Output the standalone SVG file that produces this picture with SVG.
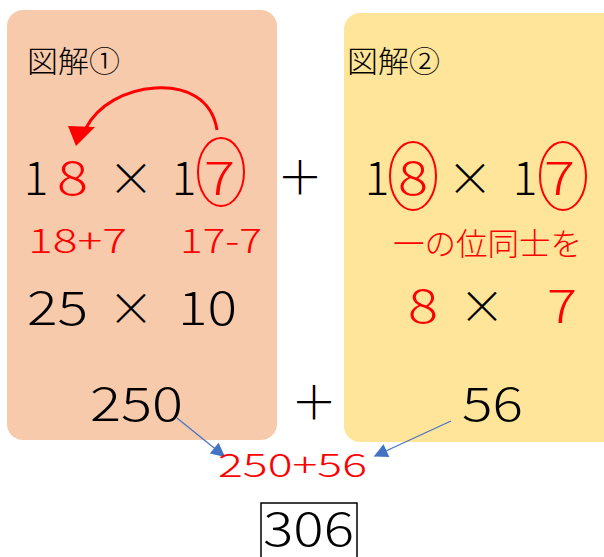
<svg xmlns="http://www.w3.org/2000/svg" width="604" height="557" viewBox="0 0 604 557">
<defs>
<style>
text{font-family:"Noto Sans CJK JP","Noto Sans",sans-serif;font-weight:300;}
.big{font-size:46px;fill:#000;}
.red{fill:#ff0000;}
.mid{font-size:34px;fill:#ff0000;}
.ttl{font-size:30px;fill:#000;}
.one{font-size:46px;fill:#000;text-anchor:middle;}
.circ{fill:none;stroke:#ff0000;stroke-width:2;}
.conn{stroke:#4472c4;stroke-width:1.2;fill:none;marker-end:url(#ah);}
</style>
<marker id="ah" viewBox="0 0 10 10" refX="9" refY="5" markerWidth="16" markerHeight="14" markerUnits="userSpaceOnUse" orient="auto">
<path d="M0,0 L10,5 L0,10 z" fill="#4472c4"/>
</marker>
</defs>
<rect width="604" height="557" fill="#fff"/>
<g id="box1">
<rect x="7" y="10" width="270" height="430" rx="16" fill="#f7caac"/>
<text class="ttl" x="27" y="72" textLength="93" lengthAdjust="spacingAndGlyphs">図解①</text>
<path d="M217,130 C212,98 185,86 155,88 C125,90 98,105 86,128" fill="none" stroke="#ff0000" stroke-width="3"/>
<polygon points="68,126 95,127 76,146" fill="#ff0000"/>
<text class="one" x="36" y="195">1</text>
<text class="big red" x="57" y="195" textLength="31" lengthAdjust="spacingAndGlyphs">8</text>
<text class="big" x="131" y="195" text-anchor="middle">×</text>
<text class="one" x="184" y="195">1</text>
<text class="big red" x="204" y="195" textLength="31" lengthAdjust="spacingAndGlyphs">7</text>
<ellipse class="circ" cx="221" cy="172" rx="23" ry="34"/>
<text class="mid" x="28" y="253" textLength="99" lengthAdjust="spacingAndGlyphs">18+7</text>
<text class="mid" x="180" y="253" textLength="82" lengthAdjust="spacingAndGlyphs">17-7</text>
<text class="big" x="27" y="325" textLength="61" lengthAdjust="spacingAndGlyphs">25</text>
<text class="big" x="131" y="325" text-anchor="middle">×</text>
<text class="big" x="178" y="325" textLength="59" lengthAdjust="spacingAndGlyphs">10</text>
<text class="big" x="90" y="421" textLength="93" lengthAdjust="spacingAndGlyphs">250</text>
</g>
<g id="plus1"><text class="big" x="300" y="194" text-anchor="middle">＋</text></g>
<g id="box2">
<rect x="344" y="13" width="280" height="429" rx="16" fill="#ffe599"/>
<text class="ttl" x="347" y="72" textLength="93" lengthAdjust="spacingAndGlyphs">図解②</text>
<text class="one" x="377" y="195">1</text>
<text class="big red" x="398" y="195" textLength="30" lengthAdjust="spacingAndGlyphs">8</text>
<ellipse class="circ" cx="413" cy="176" rx="23" ry="34"/>
<text class="big" x="470" y="195" text-anchor="middle">×</text>
<text class="one" x="525" y="195">1</text>
<text class="big red" x="544" y="195" textLength="31" lengthAdjust="spacingAndGlyphs">7</text>
<ellipse class="circ" cx="563" cy="176" rx="23" ry="34"/>
<text x="393" y="255" font-size="31" fill="#ff0000" textLength="189" lengthAdjust="spacingAndGlyphs">一の位同士を</text>
<text class="big red" x="408" y="323" textLength="30" lengthAdjust="spacingAndGlyphs">8</text>
<text class="big" x="482" y="323" text-anchor="middle">×</text>
<text class="big red" x="547" y="323" textLength="30" lengthAdjust="spacingAndGlyphs">7</text>
<text class="big" x="462" y="421" textLength="61" lengthAdjust="spacingAndGlyphs">56</text>
</g>
<g id="plus2"><text class="big" x="314" y="419" text-anchor="middle">＋</text></g>
<g id="connectors">
<line class="conn" x1="177" y1="418" x2="224" y2="456"/>
<line class="conn" x1="451" y1="421" x2="375" y2="456"/>
</g>
<g id="sum"><text x="218" y="477" font-size="33" fill="#ff0000" textLength="149" lengthAdjust="spacingAndGlyphs">250+56</text></g>
<g id="result">
<rect x="261" y="503" width="96" height="60" fill="none" stroke="#000" stroke-width="1.5"/>
<text class="big" x="263" y="546" textLength="91" lengthAdjust="spacingAndGlyphs">306</text>
</g>
</svg>
